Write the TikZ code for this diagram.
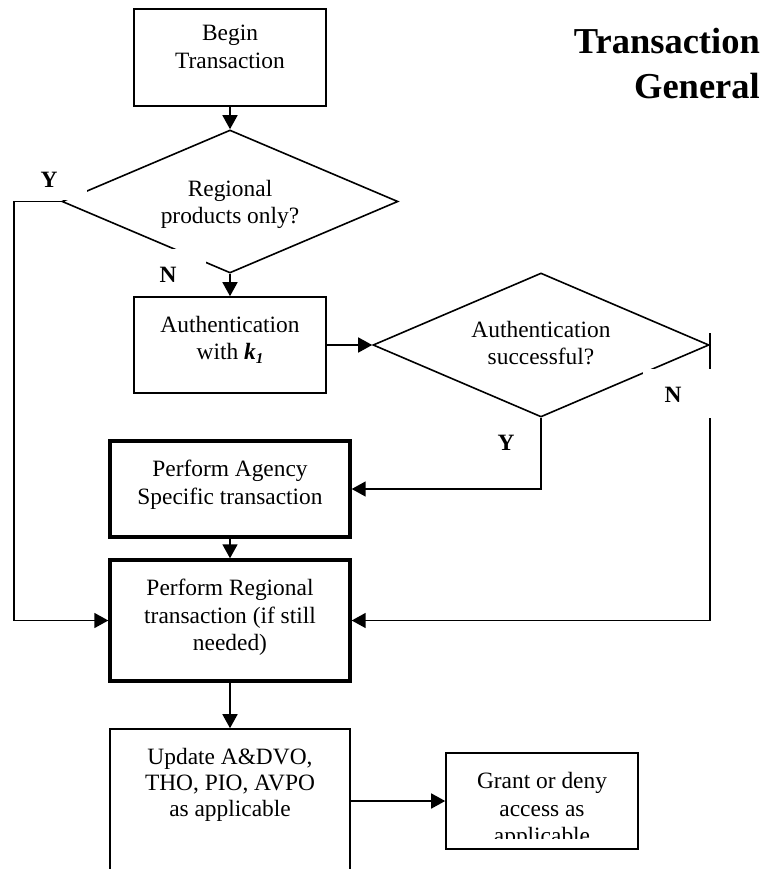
\documentclass[tikz,border=0pt]{standalone}
\usepackage{fontspec}
\setmainfont{Liberation Serif}
\usetikzlibrary{arrows.meta,shapes.geometric}
\begin{document}
\begin{tikzpicture}[x=1pt,y=-1pt,
  box/.style={draw, rectangle, inner sep=0pt, line width=1.6pt},
  thickbox/.style={box, line width=3.4pt},
  decision/.style={draw, diamond, inner sep=0pt, line width=1.6pt},
  boxtext/.style={font=\fontsize{23.4}{27.5}\selectfont, align=center, inner sep=0pt, anchor=north},
  yn/.style={font=\fontsize{23.4}{27.5}\selectfont\bfseries, inner sep=0pt},
  flow/.style={line width=1.6pt, -{Triangle[length=14pt,width=15pt]}},
  mask/.style={fill=white}]
\clip (0,0) rectangle (765,869);

% process boxes and decisions
\node[box, minimum width=192pt, minimum height=97pt] (begin) at (230,57.5) {};
\node[decision, minimum width=336pt, minimum height=143pt] (d1) at (230,201.5) {};
\node[box, minimum width=192pt, minimum height=96pt] (auth) at (230,345) {};
\node[decision, minimum width=336pt, minimum height=144pt] (d2) at (541,345) {};
\node[thickbox, minimum width=240pt, minimum height=96pt] (agency) at (230,489) {};
\node[thickbox, minimum width=240pt, minimum height=121pt] (regional) at (230,620.5) {};
\node[box, minimum width=240pt, minimum height=200pt] (update) at (230,829) {};
\node[box, minimum width=192pt, minimum height=96pt] (grant) at (542,801) {};

% connectors
\draw[flow] (begin) -- (d1);
\draw[flow] (d1) -- (auth);
\draw[flow] (d1.west) -- ++(-47,0) |- (regional.west);
\draw[flow] (auth) -- (d2);
\draw[flow] (d2.south) |- (agency.east);
\draw[flow] ([yshift=12pt]d2.east) |- (regional.east);
\draw[flow] (agency) -- (regional);
\draw[flow] (regional.south) -- (update.north);
\draw[flow] (grant.west -| update.east) -- (grant.west);

% white backgrounds behind the branch labels
\path[mask] (30,162) rectangle (87,199.5);
\path[mask] (145,249) rectangle (206,294);
\path[mask] (643,369) rectangle (712,418);

% branch labels
\node[yn] (y1) at (49,180) {Y};
\node[yn] (n1) at (168,275) {N};
\node[yn] (y2) at (506,443) {Y};
\node[yn] (n2) at (673,395) {N};

% box texts
\node[boxtext] (tbegin) at (230,25) {Begin\\Transaction};
\node[boxtext] (td1) at (230,180) {Regional\\products only?};
\node[boxtext] (tauth) at (230,316) {Authentication\\with \textbf{\textit{k}}\raisebox{-0.35ex}{\fontsize{15}{15}\selectfont\bfseries\itshape 1}};
\node[boxtext] (td2) at (541,321) {Authentication\\successful?};
\node[boxtext] (tagency) at (230,460) {Perform Agency\\Specific transaction};
\node[boxtext] (tregional) at (230,579) {Perform Regional\\transaction (if still\\needed)};
\node[boxtext, font=\fontsize{23.4}{26}\selectfont] (tupdate) at (230,748) {Update A\&DVO,\\THO, PIO, AVPO\\as applicable};
\begin{scope}
  \clip (grant.north west) rectangle ([yshift=11pt]grant.south east);
  \node[boxtext, font=\fontsize{23.4}{27.7}\selectfont] (tgrant) at (542,772) {Grant or deny\\access as\\applicable};
\end{scope}

% heading
\node[font=\fontsize{36.5}{45}\selectfont\bfseries, align=right, inner sep=0pt, anchor=north east] (title) at (760,28) {Transaction\\General};
\end{tikzpicture}
\end{document}
